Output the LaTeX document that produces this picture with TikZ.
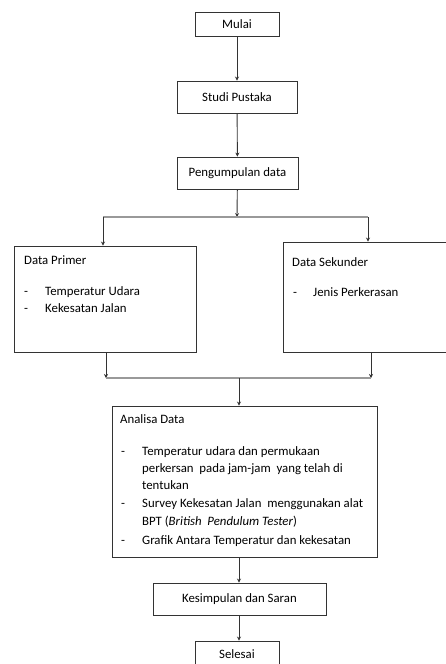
\documentclass[tikz,border=0pt]{standalone}
\usepackage{fontspec}
\setmainfont{Carlito}
\usetikzlibrary{arrows.meta}
\begin{document}
\begin{tikzpicture}[x=1pt,y=-1pt,
  font=\fontsize{12.8}{15}\selectfont,
  box/.style={draw=black!80, line width=0.9pt, rectangle, inner sep=0pt},
  conn/.style={draw=black!80, line width=0.9pt, -{Stealth[length=4pt,width=4pt]}},
  hline/.style={draw=black!40, line width=1.1pt},
  txt/.style={anchor=base west, inner sep=0pt}]
\useasboundingbox (0,0) rectangle (446,664);
% boxes
\node[box, minimum width=84pt, minimum height=24pt] (mulai) at (237,24) {Mulai};
\node[box, minimum width=120pt, minimum height=32pt] (studi) at (237,97) {Studi Pustaka};
\node[box, minimum width=121pt, minimum height=32pt] (kumpul) at (237.5,173) {Pengumpulan data};
\node[box, minimum width=182pt, minimum height=106pt] (primer) at (105,299) {};
\node[box, minimum width=180pt, minimum height=110pt] (sekunder) at (373,297) {};
\node[box, minimum width=265pt, minimum height=151pt] (analisa) at (244.5,481.5) {};
\node[box, minimum width=173pt, minimum height=32pt] (kesimpulan) at (239.5,599) {Kesimpulan dan Saran};
\node[box, minimum width=84pt, minimum height=26pt] (selesai) at (237,654) {Selesai};
% texts
\node[txt] (pt) at (24,264) {Data Primer};
\node[txt] (pd1) at (24,295) {-};
\node[txt] (p1) at (45,295) {Temperatur Udara};
\node[txt] (pd2) at (24,312) {-};
\node[txt] (p2) at (45,312) {Kekesatan Jalan};
\node[txt] (st) at (292,266) {Data Sekunder};
\node[txt] (sd1) at (293,296) {-};
\node[txt] (s1) at (313,296) {Jenis Perkerasan};
\node[txt] (at) at (120,423) {Analisa Data};
\node[txt] (ad1) at (121,455) {-};
\node[txt] (a1) at (142,455) {Temperatur udara dan permukaan};
\node[txt] (a2) at (142,472) {perkersan\ \ pada jam-jam\ \ yang telah di};
\node[txt] (a3) at (142,489) {tentukan};
\node[txt] (ad2) at (121,507) {-};
\node[txt] (a4) at (142,507) {Survey Kekesatan Jalan\ \ menggunakan alat};
\node[txt] (a5) at (142,525) {BPT (\textit{British\ \ Pendulum Tester})};
\node[txt] (ad3) at (121,544) {-};
\node[txt] (a6) at (142,544) {Grafik Antara Temperatur dan kekesatan};
% junction coordinates
\coordinate (jt) at (237,217);
\coordinate (jl) at (103,217);
\coordinate (jr) at (368,217);
\coordinate (bl) at (106,378);
\coordinate (br) at (371,378);
\coordinate (bm) at (239,378);
% connectors
\draw[conn] (mulai) -- (studi);
\draw[conn] (studi) -- (kumpul);
\draw[conn] (kumpul) -- (jt);
\draw[hline] (jl) -- (jr);
\draw[conn] (jl) -- (jl |- primer.north);
\draw[conn] (jr) -- (jr |- sekunder.north);
\draw[conn] (bl |- primer.south) -- (bl);
\draw[conn] (br |- sekunder.south) -- (br);
\draw[hline] (bl) -- (br);
\draw[conn] (bm) -- (bm |- analisa.north);
\draw[conn] (bm |- analisa.south) -- (bm |- kesimpulan.north);
\draw[conn] (bm |- kesimpulan.south) -- (bm |- selesai.north);
\end{tikzpicture}
\end{document}
